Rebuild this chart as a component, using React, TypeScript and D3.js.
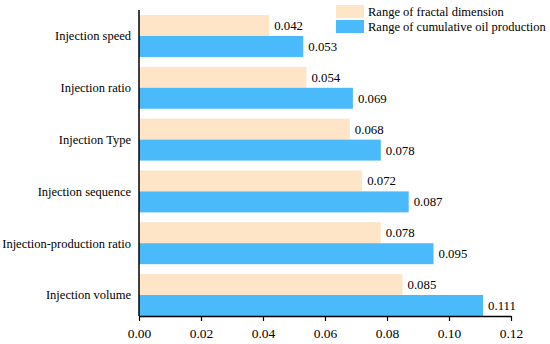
import { useEffect, useRef } from 'react';
import * as d3 from 'd3';

const categories = [
  'Injection speed',
  'Injection ratio',
  'Injection Type',
  'Injection sequence',
  'Injection-production ratio',
  'Injection volume',
];
const fractalRange = [0.042, 0.054, 0.068, 0.072, 0.078, 0.085];
const oilRange = [0.053, 0.069, 0.078, 0.087, 0.095, 0.111];
const seriesNames = ['Range of fractal dimension', 'Range of cumulative oil production'];
const xTicks = [0, 0.02, 0.04, 0.06, 0.08, 0.1, 0.12];

const colors = ['#fee5c8', '#4bbafa'];
const font = '"Liberation Serif", "Times New Roman", serif';

function App() {
  const ref = useRef<SVGSVGElement>(null);

  useEffect(() => {
    const width = 550;
    const height = 344;
    const svg = d3.select(ref.current).attr('width', width).attr('height', height);
    svg.selectAll('*').remove();

    const left = 139;
    const bottom = 316;

    const x = d3.scaleLinear().domain([0, 0.12]).range([left, 511]);
    const y = d3
      .scaleBand()
      .domain(categories)
      .range([15, bottom])
      .paddingInner(0.19)
      .paddingOuter(0);
    const sub = d3
      .scaleBand()
      .domain(['0', '1'])
      .range([0, y.bandwidth()]);

    const series = [fractalRange, oilRange];

    series.forEach((vals, si) => {
      const g = svg.append('g');
      g.selectAll('rect')
        .data(vals)
        .join('rect')
        .attr('x', x(0))
        .attr('y', (d, i) => y(categories[i])! + sub(String(si))!)
        .attr('width', d => x(d) - x(0))
        .attr('height', sub.bandwidth())
        .attr('fill', colors[si]);

      g.selectAll('text')
        .data(vals)
        .join('text')
        .attr('x', d => x(d) + 5)
        .attr('y', (d, i) => y(categories[i])! + sub(String(si))! + sub.bandwidth() / 2)
        .attr('dy', '0.35em')
        .attr('font-family', font)
        .attr('font-size', 12.8)
        .attr('fill', '#000')
        .text(d => d.toFixed(3));
    });

    // category labels
    svg
      .append('g')
      .selectAll('text')
      .data(categories)
      .join('text')
      .attr('x', left - 8)
      .attr('y', d => y(d)! + y.bandwidth() / 2)
      .attr('dy', '0.35em')
      .attr('text-anchor', 'end')
      .attr('font-family', font)
      .attr('font-size', 12.5)
      .text(d => d);

    // y axis line
    svg
      .append('line')
      .attr('x1', left)
      .attr('x2', left)
      .attr('y1', 10)
      .attr('y2', bottom)
      .attr('stroke', '#000')
      .attr('stroke-width', 1.5);

    // x axis
    const xAxis = svg
      .append('g')
      .attr('transform', `translate(0,${bottom})`)
      .call(
        d3
          .axisBottom(x)
          .tickValues(xTicks)
          .tickFormat(d => (d as number).toFixed(2))
          .tickSize(5)
          .tickSizeOuter(0)
      );
    xAxis.select('.domain').attr('stroke', '#000').attr('stroke-width', 1.5);
    xAxis.selectAll('.tick line').attr('stroke', '#000').attr('stroke-width', 1.2);
    xAxis
      .selectAll('.tick text')
      .attr('font-family', font)
      .attr('font-size', 13.5)
      .attr('fill', '#000')
      .attr('y', 12);

    // legend
    const legend = svg.append('g').attr('transform', 'translate(336,5)');
    seriesNames.forEach((name, i) => {
      legend
        .append('rect')
        .attr('x', 0)
        .attr('y', i * 15)
        .attr('width', 28)
        .attr('height', 13)
        .attr('fill', colors[i]);
      legend
        .append('text')
        .attr('x', 32)
        .attr('y', i * 15 + 6.5)
        .attr('dy', '0.35em')
        .attr('font-family', font)
        .attr('font-size', 12.5)
        .text(name);
    });
  }, []);

  return (
    <svg
      ref={ref}
      style={{ position: 'absolute', left: 0, top: 0, background: '#fff' }}
      role="img"
      aria-label="Range comparison"
    />
  );
}

export default App;
